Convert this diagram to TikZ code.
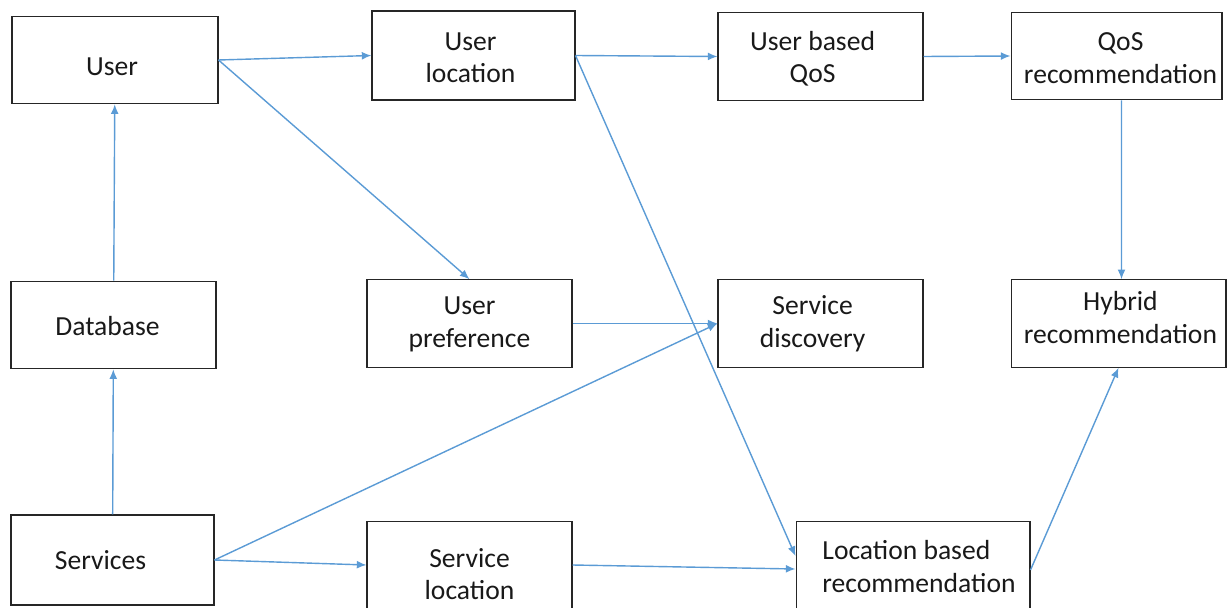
\documentclass[tikz,border=0pt]{standalone}
\usepackage{fontspec}
\setmainfont{Carlito}
\usepackage{tikz}
\usetikzlibrary{arrows.meta,positioning}

\begin{document}
\begin{tikzpicture}[
x=0.02cm, y=-0.02cm,
font=\fontsize{15.7}{18.5}\selectfont,
box/.style={draw=black!85, line width=0.6pt, minimum width=4.1cm, minimum height=1.75cm, inner sep=2pt},
txt/.style={align=center, inner sep=0pt, text=black!90},
flow/.style={->, draw={rgb,255:red,91;green,155;blue,213}, line width=0.8pt, >={Latex[length=5.5pt,width=4.5pt]}}
]
\useasboundingbox (0,0) rectangle (1228,608);

% Boxes
\node[box, minimum width=4.12cm, label={[txt, xshift=-1.7pt, yshift=-4pt]center:User}] (user) at (115,60) {};
\node[box, minimum width=4.06cm, minimum height=1.78cm, label={[txt, xshift=-1.7pt, yshift=-1.4pt]center:User\\location}] (uloc) at (473.5,55.5) {};
\node[box, label={[txt, xshift=-4.5pt, yshift=-1.4pt]center:User based\\QoS}] (ubqos) at (820.5,56.5) {};
\node[box, minimum width=4.22cm, label={[txt, xshift=2.3pt, yshift=-1.1pt]center:QoS\\recommendation}] (qosrec) at (1116.5,56) {};

\node[box, label={[txt, xshift=-3.4pt, yshift=-0.6pt]center:Database}] (db) at (113.5,325) {};
\node[box, label={[txt, yshift=-0.6pt]center:User\\preference}] (upref) at (469.5,323.5) {};
\node[box, label={[txt, xshift=-4.5pt]center:Service\\discovery}] (sdisc) at (820.5,323.5) {};
\node[box, minimum width=4.3cm, label={[txt, xshift=1.1pt, yshift=3.4pt]center:Hybrid\\recommendation}] (hybrid) at (1118.5,323.5) {};

\node[box, minimum width=4.06cm, minimum height=1.8cm, label={[txt, xshift=-6.8pt]center:Services}] (serv) at (112.5,560) {};
\node[box, label={[txt, yshift=-5.1pt]center:Service\\location}] (sloc) at (469.5,565) {};
\node[box, minimum width=4.68cm, label={[txt, align=left, xshift=3.4pt, yshift=-0.8pt]center:Location based\\recommendation}] (locrec) at (913,565) {};

% Connectors
\draw[flow] (serv) -- (db);
\draw[flow] (db) -- (user);
\draw[flow] (user.east) -- (uloc.west);
\draw[flow] (user.east) -- (upref.north);
\draw[flow] (uloc.east) -- (ubqos.west);
\draw[flow] (uloc.east) -- ([yshift=0.18cm]locrec.west);
\draw[flow] (ubqos.east) -- (qosrec.west);
\draw[flow] ([xshift=0.1cm]qosrec.south) -- ([xshift=0.06cm]hybrid.north);
\draw[flow] (upref.east) -- (sdisc.west);
\draw[flow] (serv.east) -- (sdisc.west);
\draw[flow] (serv.east) -- (sloc.west);
\draw[flow] (sloc.east) -- ([yshift=-0.08cm]locrec.west);
\draw[flow] ([yshift=-0.1cm]locrec.east) -- (hybrid.south);
\end{tikzpicture}
\end{document}
